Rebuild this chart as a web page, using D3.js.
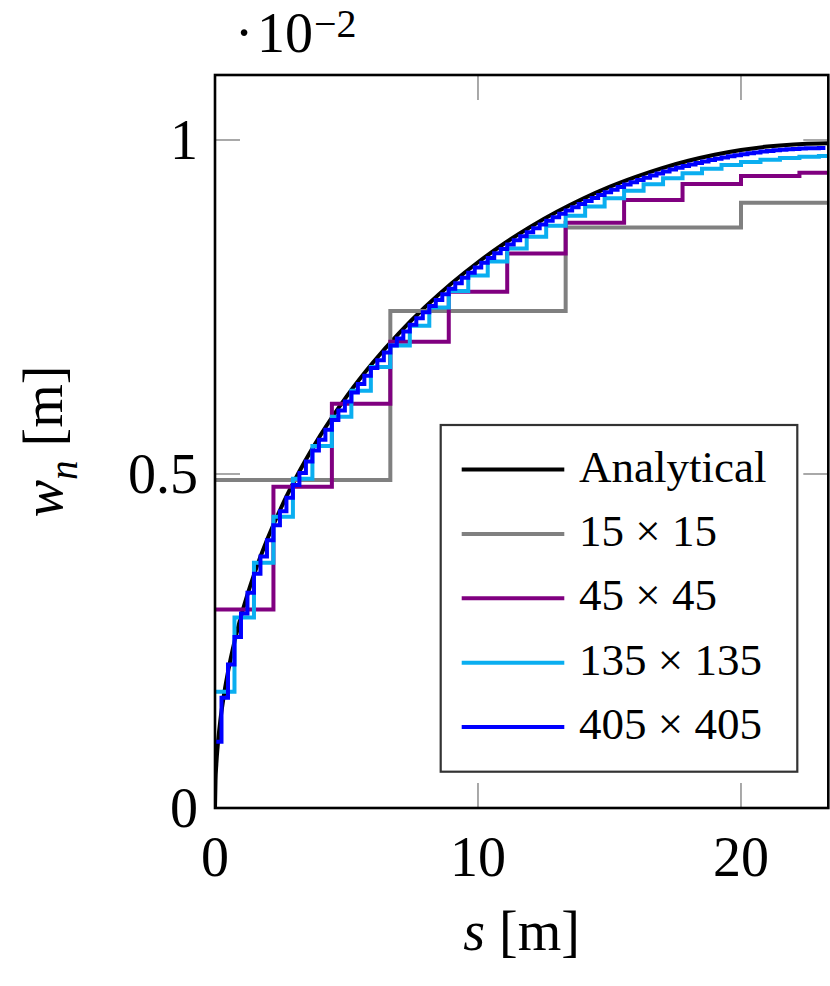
<!DOCTYPE html>
<html>
<head>
<meta charset="utf-8">
<script src="https://cdn.jsdelivr.net/npm/d3@7"></script>
<style>
  html, body { margin: 0; padding: 0; background: #fff; }
  svg { display: block; }
  text { font-family: "Liberation Serif", "DejaVu Serif", serif; fill: #000; }
</style>
</head>
<body>
<svg id="chart" width="830" height="986"></svg>
<script>
// ---------------- data ----------------
const domainLength = 100;               // total length discretised by the meshes [m]
const sAnalytical = [0, 0.02, 0.05, 0.1, 0.2, 0.35, 0.5, 0.75, 1, 1.5, 2, 2.5, 3, 4, 5, 6, 7, 8, 9, 10,
                     11, 12, 13, 14, 15, 16, 17, 18, 19, 20, 21, 22, 23, 23.33];
const wAnalytical = [0, 0.0412, 0.0651, 0.0921, 0.1301, 0.1718, 0.2050, 0.2504, 0.2884, 0.3512,
                     0.4033, 0.4484, 0.4884, 0.5574, 0.6159, 0.6665, 0.7110, 0.7504, 0.7856, 0.8170,
                     0.8451, 0.8702, 0.8925, 0.9123, 0.9298, 0.9448, 0.9579, 0.9689, 0.9779, 0.9850,
                     0.9902, 0.9934, 0.9949, 0.9950];

const mesh15  = [0.491, 0.744, 0.869, 0.906];
const mesh45  = [0.297, 0.481, 0.605, 0.698, 0.773, 0.830, 0.876, 0.910, 0.934, 0.946, 0.951];
const mesh135 = [0.174, 0.285, 0.367, 0.4361, 0.4928, 0.5421, 0.5857, 0.6248, 0.6603, 0.6925,
                 0.7221, 0.7491, 0.7740, 0.7970, 0.8181, 0.8375, 0.8553, 0.8717, 0.8867, 0.9003,
                 0.9127, 0.9239, 0.9338, 0.9427, 0.9504, 0.9570, 0.9626, 0.9671, 0.9706, 0.9731,
                 0.9750, 0.9760];
const mesh405 = [0.099, 0.165, 0.2148, 0.2559, 0.2912, 0.3224, 0.3507, 0.3766, 0.4007, 0.4233,
                 0.4444, 0.4644, 0.4834, 0.5015, 0.5188, 0.5353, 0.5511, 0.5664, 0.5810, 0.5951,
                 0.6087, 0.6220, 0.6346, 0.6469, 0.6588, 0.6704, 0.6817, 0.6925, 0.7030, 0.7133,
                 0.7233, 0.7330, 0.7423, 0.7515, 0.7604, 0.7691, 0.7775, 0.7856, 0.7937, 0.8014,
                 0.8090, 0.8163, 0.8233, 0.8303, 0.8369, 0.8435, 0.8498, 0.8560, 0.8620, 0.8678,
                 0.8735, 0.8790, 0.8844, 0.8896, 0.8946, 0.8995, 0.9043, 0.9088, 0.9133, 0.9176,
                 0.9217, 0.9257, 0.9296, 0.9333, 0.9369, 0.9403, 0.9436, 0.9468, 0.9499, 0.9528,
                 0.9557, 0.9584, 0.9609, 0.9634, 0.9657, 0.9679, 0.9700, 0.9720, 0.9738, 0.9756,
                 0.9772, 0.9787, 0.9801, 0.9814, 0.9826, 0.9836, 0.9845, 0.9854, 0.9861, 0.9867,
                 0.9872, 0.9875, 0.9878, 0.9880];

const meshCounts  = [15, 45, 135, 405];
const seriesNames = ["Analytical", "15 \u00d7 15", "45 \u00d7 45", "135 \u00d7 135", "405 \u00d7 405"];
const xTicks = [0, 10, 20];
const xTickLabels = ["0", "10", "20"];
const yTicks = [0, 0.5, 1];
const yTickLabels = ["0", "0.5", "1"];
const xDomain = [0, 23.32];
const yDomain = [0, 1.0973];

// ---------------- styles ----------------
const colors = ["#000000", "#808080", "#800080", "#0aaef0", "#0000ff"];
const pL = 215, pR = 828.3, pT = 75, pB = 808;

const svg = d3.select("#chart");
const x = d3.scaleLinear().domain(xDomain).range([pL, pR]);
const y = d3.scaleLinear().domain(yDomain).range([pB, pT]);

svg.append("defs").append("clipPath").attr("id", "plotclip")
  .append("rect").attr("x", pL).attr("y", pT - 2)
  .attr("width", pR - pL).attr("height", pB - pT + 2);

// ticks (inward, both sides)
const tickLen = 25;
const tickG = svg.append("g").attr("stroke", "#7a7a7a").attr("stroke-width", 1.3);
xTicks.forEach(t => {
  if (t === 0) return;
  tickG.append("line").attr("x1", x(t)).attr("x2", x(t)).attr("y1", pB).attr("y2", pB - tickLen);
  tickG.append("line").attr("x1", x(t)).attr("x2", x(t)).attr("y1", pT).attr("y2", pT + tickLen);
});
yTicks.forEach(t => {
  if (t === 0) return;
  tickG.append("line").attr("x1", pL).attr("x2", pL + tickLen).attr("y1", y(t)).attr("y2", y(t));
  tickG.append("line").attr("x1", pR).attr("x2", pR - tickLen).attr("y1", y(t)).attr("y2", y(t));
});

// data
const plot = svg.append("g").attr("clip-path", "url(#plotclip)");
const lineA = d3.line().x((d, i) => x(sAnalytical[i])).y(d => y(d)).curve(d3.curveMonotoneX);
plot.append("path").attr("d", lineA(wAnalytical))
  .attr("fill", "none").attr("stroke", colors[0]).attr("stroke-width", 4);

const meshes = [mesh15, mesh45, mesh135, mesh405];
const stepLine = d3.line().x(d => x(d[0])).y(d => y(d[1])).curve(d3.curveStepAfter);
meshes.forEach((vals, k) => {
  const h = domainLength / meshCounts[k];
  const pts = vals.map((v, i) => [i * h, v]);
  pts.push([vals.length * h, vals[vals.length - 1]]);
  plot.append("path").attr("d", stepLine(pts))
    .attr("fill", "none").attr("stroke", colors[k + 1]).attr("stroke-width", 4)
    .attr("stroke-linejoin", "miter");
});

// frame
svg.append("rect").attr("x", pL).attr("y", pT).attr("width", pR - pL).attr("height", pB - pT)
  .attr("fill", "none").attr("stroke", "#000").attr("stroke-width", 2.6);

// tick labels
xTicks.forEach((t, i) => {
  svg.append("text").attr("x", x(t)).attr("y", 876).attr("text-anchor", "middle")
    .attr("font-size", 56).text(xTickLabels[i]);
});
yTicks.forEach((t, i) => {
  svg.append("text").attr("x", 198).attr("y", y(t) + 19).attr("text-anchor", "end")
    .attr("font-size", 56).text(yTickLabels[i]);
});

// scale factor label
svg.append("text").attr("x", 244).attr("y", 52).attr("text-anchor", "middle").attr("font-size", 56).text("\u00b7");
svg.append("text").attr("x", 257).attr("y", 52).attr("font-size", 56).text("10");
svg.append("text").attr("x", 314).attr("y", 37).attr("font-size", 40).text("\u22122");

// axis labels
const xl = svg.append("text").attr("x", (pL + pR) / 2).attr("y", 950)
  .attr("text-anchor", "middle").attr("font-size", 56);
xl.append("tspan").attr("font-style", "italic").text("s");
xl.append("tspan").text(" [m]");

const yl = svg.append("text").attr("transform", `translate(62,${(pT + pB) / 2}) rotate(-90)`)
  .attr("text-anchor", "middle").attr("font-size", 56);
yl.append("tspan").attr("font-style", "italic").text("w");
yl.append("tspan").attr("font-style", "italic").attr("font-size", 39).attr("dy", 15).text("n");
yl.append("tspan").attr("dy", -15).text(" [m]");

// legend
const lg = svg.append("g");
lg.append("rect").attr("x", 440.7).attr("y", 425).attr("width", 356.6).attr("height", 346.7)
  .attr("fill", "#fff").attr("stroke", "#333").attr("stroke-width", 2.2);
seriesNames.forEach((name, i) => {
  const cy = 469.5 + i * 64.4;
  lg.append("line").attr("x1", 461.7).attr("x2", 564.3).attr("y1", cy).attr("y2", cy)
    .attr("stroke", colors[i]).attr("stroke-width", 4);
  lg.append("text").attr("x", 579).attr("y", cy + 12).attr("font-size", 45).text(name);
});
</script>
</body>
</html>
